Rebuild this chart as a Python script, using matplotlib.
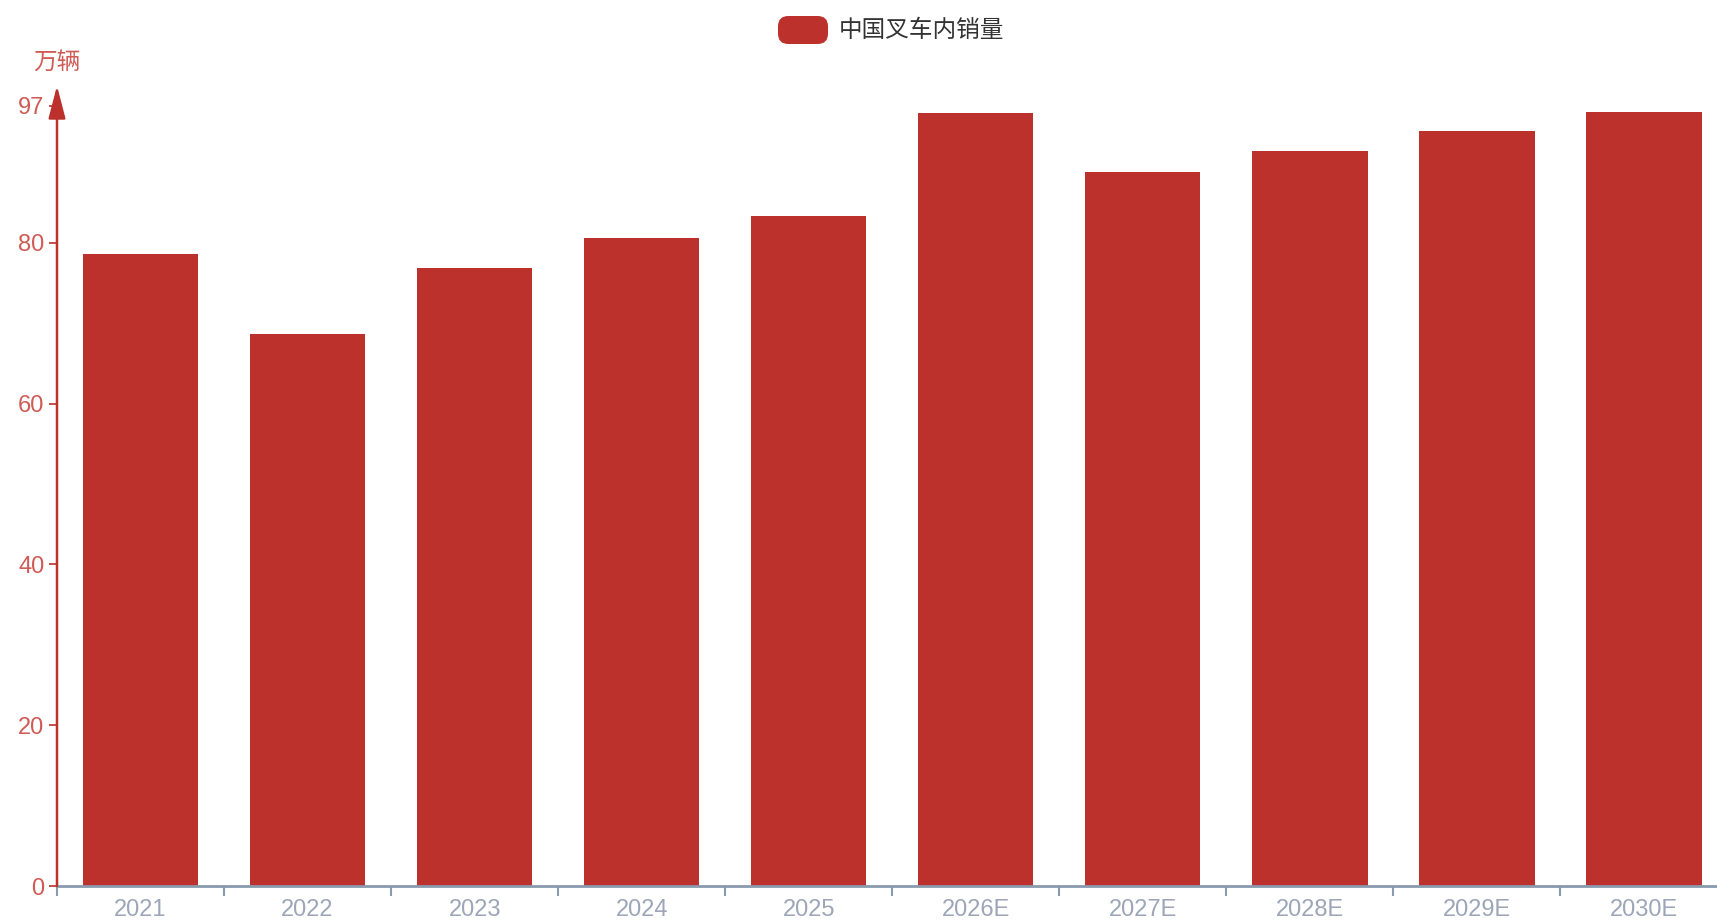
import matplotlib
matplotlib.use("Agg")
import matplotlib.pyplot as plt
from matplotlib.patches import FancyBboxPatch, FancyArrowPatch
import numpy as np

plt.rcParams['font.family'] = ['Liberation Sans', 'Noto Sans CJK SC']

# 数据
years = ['2021', '2022', '2023', '2024', '2025', '2026E', '2027E', '2028E', '2029E', '2030E']
sales = [78.6, 68.6, 76.9, 80.6, 83.3, 96.1, 88.8, 91.4, 93.9, 96.2]
series_name = '中国叉车内销量'
unit = '万辆'
y_ticks = [0, 20, 40, 60, 80, 97]

bar_color = '#bc312c'
axis_red = '#bc312c'
label_red = '#d05a55'
x_axis_color = '#8a9aae'
x_label_color = '#9ca6b8'

W, H = 1717, 921
fig = plt.figure(figsize=(W / 100, H / 100), dpi=100)
fig.patch.set_facecolor('white')

# 绘图区: 每个类目约 167 px, x 轴在画布右边缘被截断
x0, x1 = 57, 1717
cat_w = 167.05
y0, ytop = 886, 106
ax = fig.add_axes([x0 / W, (H - y0) / H, (x1 - x0) / W, (y0 - ytop) / H])

x = np.arange(len(years))
ax.bar(x, sales, width=0.69, color=bar_color, zorder=2)

ax.set_xlim(-0.5, -0.5 + (x1 - x0) / cat_w)
ax.set_ylim(0, 97)

for s in ['top', 'right', 'left']:
    ax.spines[s].set_visible(False)
ax.spines['bottom'].set_color(x_axis_color)
ax.spines['bottom'].set_linewidth(2)
ax.spines['bottom'].set_zorder(3)

# y 轴
ax.set_yticks(y_ticks)
ax.set_yticklabels([str(t) for t in y_ticks])
ax.tick_params(axis='y', colors=axis_red, labelcolor=label_red, labelsize=17,
               length=6, width=1.2, pad=3)

# x 轴: 刻度线在分界处, 标签在中间
ax.set_xticks(np.arange(len(years)) - 0.5)
ax.set_xticklabels([])
ax.set_xticks(x, minor=True)
ax.set_xticklabels(years, minor=True)
ax.tick_params(axis='x', which='major', colors=x_axis_color, length=7, width=1.5)
ax.tick_params(axis='x', which='minor', length=0, labelsize=17,
               labelcolor=x_label_color, pad=9)

# y 轴线 + 箭头
arrow = FancyArrowPatch((0, 0), (0, 1.026), transform=ax.transAxes,
                        arrowstyle='-|>,head_length=1.0,head_width=0.26',
                        color=axis_red, lw=1.8, mutation_scale=20,
                        shrinkA=0, shrinkB=0, clip_on=False, zorder=4)
ax.add_artist(arrow)

fig.text(x0 / W, 1 - 64 / H, unit, color=label_red, fontsize=17,
         ha='center', va='center')

# 图例
leg = FancyBboxPatch((778 / W, 1 - 44 / H), 50 / W, 28 / H,
                     boxstyle='round,pad=0,rounding_size=0.006',
                     transform=fig.transFigure, facecolor=bar_color,
                     edgecolor='none', mutation_aspect=W / H)
fig.patches.append(leg)
fig.text(839 / W, 1 - 31 / H, series_name, color='#333333', fontsize=17,
         ha='left', va='center')

fig.savefig('out.png', dpi=100, facecolor='white')
